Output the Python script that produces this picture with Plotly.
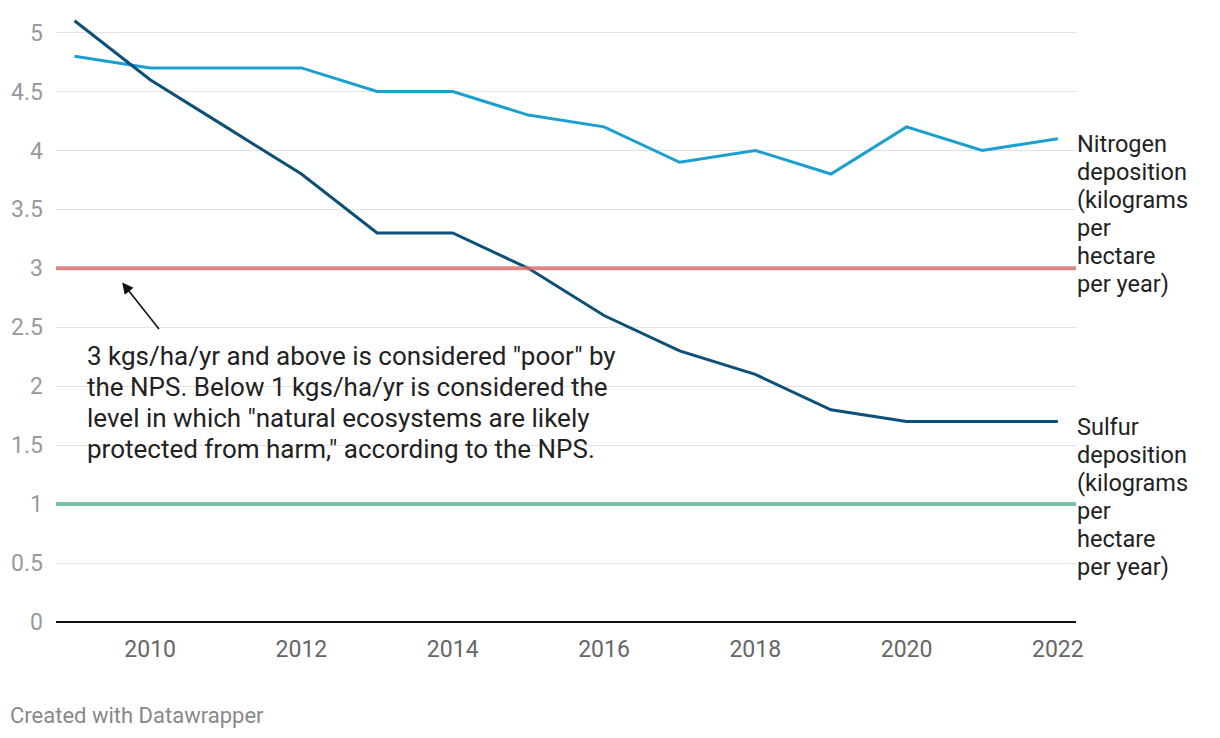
import plotly.graph_objects as go

years = list(range(2009, 2023))
nitrogen = [4.8, 4.7, 4.7, 4.7, 4.5, 4.5, 4.3, 4.2, 3.9, 4.0, 3.8, 4.2, 4.0, 4.1]
sulfur = [5.1, 4.6, 4.2, 3.8, 3.3, 3.3, 3.0, 2.6, 2.3, 2.1, 1.8, 1.7, 1.7, 1.7]
poor_level = 3
protected_level = 1
nitrogen_label = ["Nitrogen", "deposition", "(kilograms", "per", "hectare", "per year)"]
sulfur_label = ["Sulfur", "deposition", "(kilograms", "per", "hectare", "per year)"]
note_lines = ['3 kgs/ha/yr and above is considered "poor" by',
              'the NPS. Below 1 kgs/ha/yr is considered the',
              'level in which "natural ecosystems are likely',
              'protected from harm," according to the NPS.']

FONT = "Roboto"
fig = go.Figure()

fig.add_trace(go.Scatter(x=years, y=nitrogen, mode="lines", line=dict(color="#1a9fd0", width=3),
                         hoverinfo="x+y", showlegend=False))
fig.add_trace(go.Scatter(x=years, y=sulfur, mode="lines", line=dict(color="#0c5079", width=3),
                         hoverinfo="x+y", showlegend=False))

fig.add_shape(type="line", xref="paper", yref="y", x0=0, x1=1, y0=poor_level, y1=poor_level,
              line=dict(color="#d86b68", width=4), opacity=0.8, layer="above")
fig.add_shape(type="line", xref="paper", yref="y", x0=0, x1=1, y0=protected_level, y1=protected_level,
              line=dict(color="#58b49f", width=4), opacity=0.8, layer="above")

for label, series in ((nitrogen_label, nitrogen), (sulfur_label, sulfur)):
    for i, line in enumerate(label):
        fig.add_annotation(x=1, xref="paper", y=series[-1], yref="y", text=line,
                           showarrow=False, xanchor="left", yanchor="middle",
                           xshift=-1, yshift=-5 - 28 * i,
                           font=dict(family=FONT, size=23.5, color="#222222"))

for i, line in enumerate(note_lines):
    fig.add_annotation(x=2009.14, y=2.256, xref="x", yref="y", text=line, showarrow=False,
                       xanchor="left", yanchor="middle", align="left", yshift=-31 * i,
                       font=dict(family=FONT, size=26, color="#222222"))

fig.add_annotation(x=2009.63, y=2.88, xref="x", yref="y", text="", showarrow=True,
                   ax=38, ay=48, arrowhead=2, arrowsize=1.4, arrowwidth=1.6,
                   arrowcolor="#111111", standoff=0)

fig.add_annotation(x=-0.047, y=-0.152, xref="paper", yref="paper", text="Created with Datawrapper",
                   showarrow=False, xanchor="left", yanchor="middle",
                   font=dict(family=FONT, size=22, color="#888888"))

fig.update_xaxes(range=[2008.755, 2022.24], tickvals=[2010, 2012, 2014, 2016, 2018, 2020, 2022],
                 showgrid=False, zeroline=False, showline=False, ticks="",
                 ticklabelstandoff=11,
                 tickfont=dict(family=FONT, size=23, color="#666666"))
fig.update_yaxes(range=[0, 5.2], tickvals=[0, 0.5, 1, 1.5, 2, 2.5, 3, 3.5, 4, 4.5, 5],
                 ticktext=["0", "0.5", "1", "1.5", "2", "2.5", "3", "3.5", "4", "4.5", "5"],
                 showgrid=True, gridcolor="#e3e3e3", gridwidth=1,
                 zeroline=True, zerolinecolor="#111111", zerolinewidth=2,
                 showline=False, ticks="", ticklabelstandoff=12,
                 tickfont=dict(family=FONT, size=23, color="#9a9a9a"))

fig.update_layout(width=1220, height=738, margin=dict(l=56, r=144, t=9, b=116, autoexpand=False),
                  paper_bgcolor="white", plot_bgcolor="white", font=dict(family=FONT))

fig.write_html("out.html")
